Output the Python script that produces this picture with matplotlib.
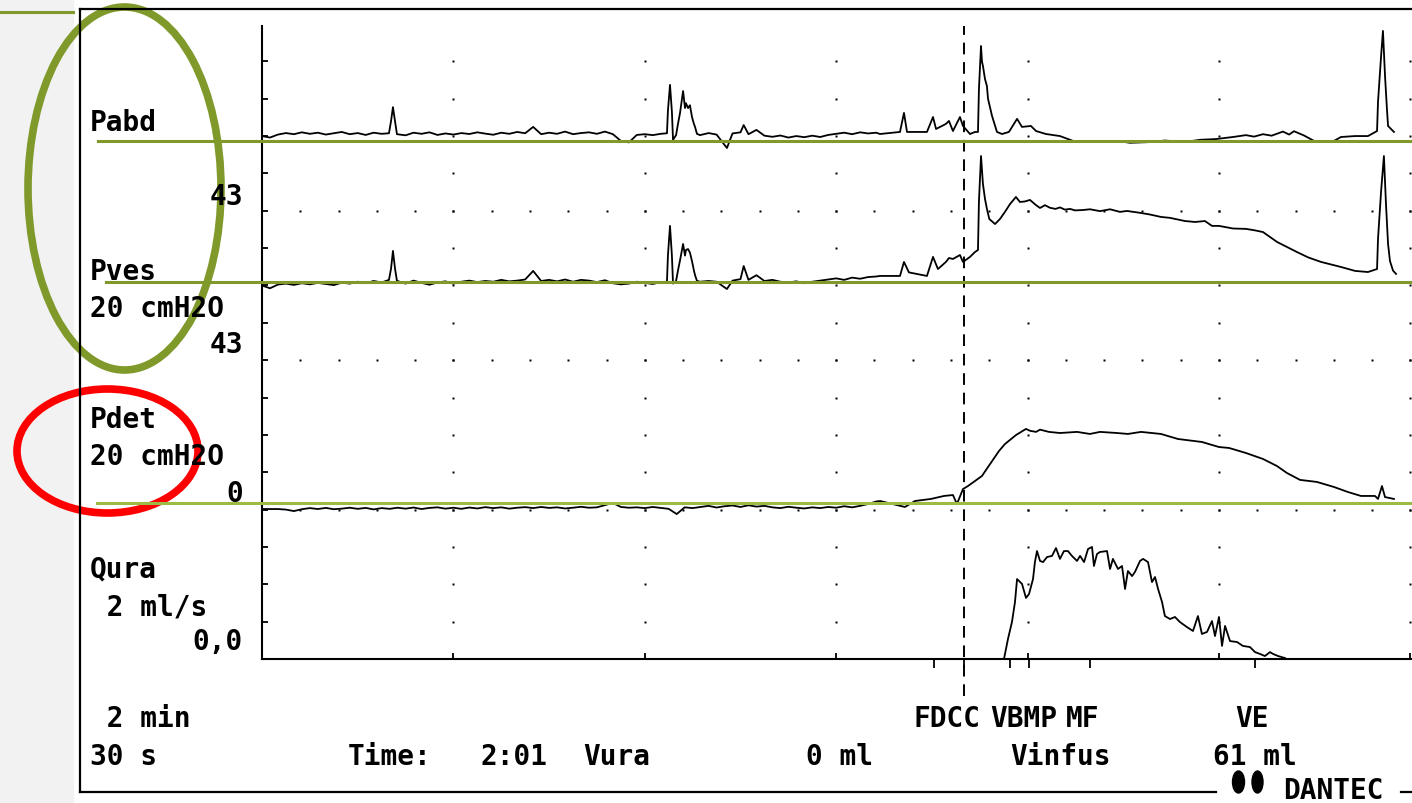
import matplotlib
matplotlib.use("Agg")
import matplotlib.pyplot as plt
from matplotlib.lines import Line2D
from matplotlib.patches import Ellipse, Rectangle

W, H = 1412, 804

# filling phase samples (s), shared by Pabd and Pves
t_fill = [0, 5, 10, 15, 20, 25, 30, 35, 40, 45, 50, 55, 60, 65, 70, 75,
          79.6, 80.9, 82.1, 83.4, 84.6,
          90, 95, 100, 105, 110, 115, 120, 125, 130, 135, 140, 145, 150, 155, 160,
          165, 170, 175, 180, 185, 190, 195, 200, 205, 210, 215, 220, 225, 230, 235,
          240, 245, 250,
          253.9, 254.5, 255.8, 257.0, 257.7, 259.6, 260.8, 262.1, 264.0, 265.2,
          265.8, 267.1, 268.3, 269.6, 270.8, 271.5, 272.7, 274.6,
          280, 285, 291.5, 295, 300, 302, 305, 310,
          315, 320, 325, 330, 335, 340, 345, 350, 355, 360, 365, 370, 375, 380, 385]

pabd_fill = [0.0, -0.8, 0.8, 1.6, 1.0, 2.0, 1.2, 1.8, 0.8, 1.5, 2.2, 1.0, 1.6, 0.6, 1.8, 1.2,
             1.5, 8.0, 15.5, 8.0, 1.0,
             0.4, 1.8, 1.2, 2.0, 0.6, 1.4, 0.8, 1.6, 1.1, 2.0, 1.3, 0.7, 1.8, 1.2, 2.2,
             1.5, 4.9, 1.0, 1.8, 1.2, 2.4, 1.0, 1.6, 2.0, 1.2, 2.4, 1.0, -2.6, -3.4, 0.6,
             1.0, 0.5, 1.2,
             1.5, 13.5, 27.4, 13.0, -2.0, 0.5, 6.5, 12.4, 24.1, 15.0,
             17.6, 15.0, 16.5, 10.2, 6.5, 4.9, 1.2, 0.5,
             1.6, 0.8, -6.4, 1.4, 2.0, 5.9, 1.0, 3.3,
             0.2, -0.4, 0.3, -0.8, 0.0, -0.6, 0.2, -0.5, 0.6, 1.2, 1.8, 1.0, 2.0, 1.4, 1.8]

pves_fill = [0.0, -1.5, 0.5, 1.0, 0.3, 1.2, 0.6, 1.4, 0.8, 0.2, 1.5, 1.0, 2.0, 1.2, 2.4, 1.6,
             3.0, 9.0, 18.5, 9.0, 2.5,
             1.0, 2.6, 1.4, 0.4, 1.6, 2.2, 1.0, 2.0, 2.6, 1.8, 2.4, 2.0, 3.0, 2.2, 2.6,
             3.2, 7.8, 2.4, 3.0, 2.2, 3.2, 2.0, 3.0, 2.6, 1.8, 2.8, 1.2, 0.6, 1.0, 2.0,
             1.4, 0.8, 1.8,
             2.0, 16.0, 31.9, 16.0, 1.0, 2.4, 8.0, 13.5, 22.2, 16.0,
             19.0, 19.5, 17.6, 13.0, 8.0, 5.5, 2.5, 2.0,
             2.4, 2.0, -1.9, 2.6, 3.4, 10.4, 3.0, 5.5,
             2.4, 3.0, 2.0, 1.6, 2.2, 1.2, 2.0, 2.6, 3.2, 3.8, 3.0, 4.2, 3.6, 4.5, 4.8]

# voiding phase
t_pabd_void = [387.5, 400.0, 402.5, 404.4, 416.9, 420.7, 422.6, 428.8, 430.7, 433.2,
               437.6, 439.5, 443.9, 447.0, 448.9, 449.5, 450.8, 451.4, 452.0, 453.3,
               454.5, 455.2, 457.7, 460.8, 464.0, 468.3, 473.4, 476.5, 482.1, 485.3,
               491.5, 500.3, 508.5, 519.1, 525.4, 536.1, 544.2, 557.4, 566.1, 578.7,
               588.1, 598.1, 608.8, 616.9, 622.0, 627.6, 633.0, 640.1, 644.0, 647.0,
               653.3, 659.6, 672.1,
               676.5, 685.3, 693.4, 699.1, 699.7, 701.6, 702.8, 704.1, 705.3, 706.0, 709.7]
pabd_void = [1.1, 2.2, 12.4, 2.2, 2.2, 10.2, 3.8, 6.5, 8.1, 2.7,
             10.2, 5.4, 1.1, 2.2, 2.2, 25.2, 48.2, 39.8, 37.6, 30.5,
             26.8, 19.9, 10.8, 2.2, 1.1, 2.2, 9.2, 4.9, 5.4, 2.7,
             1.1, 0.0, -2.6, -3.2, -2.8, -2.6, -3.6, -3.2, -2.4, -3.2,
             -2.0, -1.6, -0.5, 0.5, -0.3, 1.0, 0.2, 2.4, 0.8, 2.6,
             0.3, -2.6, -2.6,
             -0.5, 0.0, 0.0, 2.7, 18.3, 42.4, 56.3, 32.2, 14.5, 5.4, 2.2]

t_pves_void = [387.5, 400.0, 402.5, 405.6, 416.9, 420.7, 423.8, 428.8, 430.7, 433.2,
               437.6, 439.5, 443.9, 447.0, 448.9, 449.5, 450.8, 452.0, 453.3, 454.5,
               456.0, 459.6, 462.7, 465.8, 469.0, 472.7, 475.2, 478.4, 481.5, 485.3,
               487.8, 490.9, 494.0, 497.5, 500.3, 503.4, 506.6, 509.7, 514.7, 519.1,
               525.4, 531.7, 537.9, 542.3, 550.5, 556.7, 563.6, 569.3, 578.7, 585.0,
               591.2, 595.6, 600.0, 608.8, 616.9, 622.6, 627.6, 636.4, 648.9, 656.0,
               664.0, 676.5, 685.3, 693.4, 699.1, 699.7, 701.6, 703.4, 704.7, 706.0,
               707.2, 709.1, 711.0]
pves_void = [5.1, 5.1, 12.6, 7.0, 5.1, 15.3, 8.8, 12.6, 14.7, 14.2,
             16.3, 12.6, 15.3, 17.9, 19.0, 45.0, 69.3, 54.4, 46.3, 41.0,
             35.6, 32.9, 35.6, 39.4, 43.6, 47.4, 44.7, 45.0, 45.8, 43.0,
             41.5, 43.0, 41.6, 41.0, 41.8, 40.6, 41.0, 40.2, 40.4, 40.8,
             39.8, 40.8, 39.4, 39.9, 38.9, 38.0, 36.7, 36.2, 34.5, 34.0,
             34.5, 31.9, 31.9, 30.5, 30.3, 29.5, 28.6, 23.3, 17.9, 15.0,
             12.6, 9.9, 7.8, 7.2, 8.8, 24.9, 50.0, 69.3, 43.6, 22.2,
             13.1, 8.0, 6.2]

t_pdet = list(range(0, 390, 5)) + [
    387.5, 403.1, 409.4, 419.4, 427.6, 433.2, 435.7, 439.5, 442.6, 451.4,
    455.2, 462.1, 465.8, 472.7, 479.0, 481.5, 485.3, 487.8, 493.4, 500.3,
    511.0, 519.1, 525.4, 536.1, 542.9, 551.1, 563.6, 574.3, 589.3, 600.0,
    606.3, 616.9, 627.6, 636.4, 642.6, 650.8, 661.4, 672.1, 680.9, 689.0,
    697.8, 699.7, 702.2, 704.1, 709.7]
pdet = [0.3, 0.3, 0.3, 0.0, -0.8, 0.2, 0.8, 0.3, 0.9, 0.2,
        0.5, 1.0, 0.4, 0.9, 0.1, 0.8, 0.4, 1.0, 0.5, 1.1,
        0.3, 0.9, 1.2, 0.5, 1.0, 0.4, 1.1, 0.6, 1.3, 0.8,
        1.2, 0.5, 1.0, 1.3, 0.8, 1.4, 0.9, 1.2, 0.6, 1.0,
        1.5, 1.0, 1.2, 2.4, 3.6, 1.4, 1.0, 1.2, 0.8, 1.4,
        0.9, 0.4, -2.4, 1.2, 0.8, 1.4, 2.0, 1.1, 1.8, 2.2,
        1.4, 2.3, 1.6, 2.0, 1.2, 0.8, 1.5, 1.0, 0.6, 1.2,
        0.8, 1.4, 1.0, 1.8, 1.2, 2.0, 3.0, 4.3,
        4.6, 1.4, 4.6, 5.7, 7.3, 7.8, 3.0, 11.0, 12.6, 18.0,
        22.8, 31.4, 35.1, 39.9, 43.2, 42.2, 41.6, 42.8, 41.6, 41.0,
        41.6, 40.5, 41.6, 41.0, 40.5, 41.6, 40.5, 37.8, 36.2, 33.5,
        33.0, 30.3, 27.1, 23.3, 19.6, 15.9, 14.8, 12.1, 9.4, 7.3,
        7.3, 5.7, 12.6, 6.7, 5.7]

t_qura = [465.2, 467.7, 470.2, 472.1, 473.4, 476.5, 479.0, 480.9, 483.4, 484.6,
          485.9, 487.8, 489.7, 492.2, 495.3, 497.8, 500.3, 502.8, 505.3, 507.8,
          511.0, 512.9, 515.4, 517.9, 520.4, 521.6, 523.5, 525.4, 529.8, 531.7,
          533.5, 536.7, 539.2, 541.1, 542.9, 545.5, 547.3, 550.5, 552.4, 555.5,
          558.0, 559.9, 561.8, 564.3, 566.1, 569.3, 572.4, 575.5, 579.9, 583.7,
          586.8, 589.3, 592.5, 595.6, 597.5, 600.0, 601.9, 603.8, 606.9, 611.3,
          615.0, 619.4, 622.6, 625.7, 628.8, 632.0, 633.9, 637.0, 641.4]
qura = [0.0, 1.07, 1.98, 3.05, 4.28, 4.02, 3.27, 3.48, 4.28, 5.19,
        5.78, 5.25, 5.19, 5.46, 5.52, 5.94, 5.36, 5.78, 5.78, 5.52,
        5.25, 5.52, 5.19, 5.89, 6.00, 4.98, 5.62, 5.73, 5.78, 4.82,
        5.36, 4.82, 4.98, 3.75, 4.71, 4.44, 4.66, 5.25, 5.36, 5.19,
        4.12, 4.39, 3.75, 3.05, 2.30, 2.14, 2.25, 1.98, 1.71, 1.50,
        2.30, 1.34, 1.45, 2.03, 1.23, 2.25, 0.70, 1.77, 0.96, 0.91,
        0.70, 0.64, 0.37, 0.27, 0.16, 0.37, 0.27, 0.16, 0.05]

# event markers (s)
events = {"FD": 421.3, "CC": 440.1, "VB": 469.0, "MP": 480.9, "MF": 519.1, "VE": 622.6}
major_t = [120, 240, 360, 480, 600, 720]
minor_t = [24 * k for k in range(1, 31)]
dot_rows = [4, 8, 12]

# channel: (zero row, units per row)
channels = {"Pabd": (14, 20), "Pves": (10, 20), "Pdet": (4, 20), "Qura": (0, 2)}
NROWS = 17
T_MAX = 732.3


def fx(px):
    return px / W


def fy(py):
    return 1 - py / H


fig = plt.figure(figsize=(W / 100, H / 100), dpi=100)
fig.patch.set_facecolor("white")
fig.add_artist(Rectangle((0, 0), fx(73), 1, transform=fig.transFigure,
                         color="#f2f2f2", zorder=-5))

rect = [fx(262), fy(660), fx(1430) - fx(262), fy(25) - fy(660)]
ax = fig.add_axes(rect)
ax.set_xlim(0, T_MAX)
ax.set_ylim(0, NROWS)
ax.patch.set_visible(False)
for s in ["top", "right"]:
    ax.spines[s].set_visible(False)
for s in ["left", "bottom"]:
    ax.spines[s].set_linewidth(1.5)
ax.spines["left"].set_bounds(0, 16.95)
ax.set_yticks(range(1, 17))
ax.tick_params(axis="y", direction="in", length=4.5, width=1.3, labelleft=False)
ax.set_xticks(major_t)
ax.set_xticks(list(events.values()), minor=True)
ax.tick_params(axis="x", which="major", direction="in", length=4.5, width=1.3,
               labelbottom=False)
ax.tick_params(axis="x", which="minor", direction="out", length=6.5, width=1.3)

# dotted grid
gx, gy = [], []
for t in major_t:
    for r in range(1, 17):
        gx.append(t)
        gy.append(r)
for r in dot_rows:
    for t in minor_t:
        gx.append(t)
        gy.append(r)
ax.plot(gx, gy, "s", ms=1.5, color="black", mec="none")

# CC cursor
ax.plot([events["CC"]] * 2, [-0.99, 16.95], color="black", lw=1.4,
        dashes=(6, 4), clip_on=False)

traces = [("Pabd", t_fill + t_pabd_void, pabd_fill + pabd_void),
          ("Pves", t_fill + t_pves_void, pves_fill + pves_void),
          ("Pdet", t_pdet, pdet),
          ("Qura", t_qura, qura)]
for name, tt, vv in traces:
    r0, per_row = channels[name]
    cax = fig.add_axes(rect, sharex=ax)
    cax.set_ylim(-r0 * per_row, (NROWS - r0) * per_row)
    cax.axis("off")
    cax.patch.set_visible(False)
    cax.plot(tt, vv, color="black", lw=1.3)

# outer frame
frame = dict(color="black", lw=1.6, transform=fig.transFigure)
fig.add_artist(Line2D([fx(80), fx(1412)], [fy(10), fy(10)], **frame))
fig.add_artist(Line2D([fx(80), fx(80)], [fy(10), fy(793)], **frame))
fig.add_artist(Line2D([fx(80), fx(1216)], [fy(793), fy(793)], **frame))
fig.add_artist(Line2D([fx(1401), fx(1412)], [fy(793), fy(793)], **frame))

# texts
font = dict(family="DejaVu Sans Mono", fontsize=20, weight="bold", va="baseline")
left_labels = [("Pabd", 131), ("Pves", 280), ("20 cmH2O", 317), ("Pdet", 428),
               ("20 cmH2O", 465), ("Qura", 577), (" 2 ml/s", 615),
               (" 2 min", 727), ("30 s", 765)]
for s, y in left_labels:
    fig.text(fx(90), fy(y), s, **font)
right_values = [("43", 205), ("43", 353), ("0", 502), ("0,0", 650)]
for s, y in right_values:
    fig.text(fx(243), fy(y), s, ha="right", **font)
status = [("Time:", 348), ("2:01", 480), ("Vura", 583), ("0 ml", 806),
          ("Vinfus", 1010), ("61 ml", 1213)]
for s, x in status:
    fig.text(fx(x), fy(765), s, **font)
event_labels = [("FDCC", 913), ("VBMP", 990), ("MF", 1066), ("VE", 1235)]
for s, x in event_labels:
    fig.text(fx(x), fy(727), s, **font)
fig.text(fx(1283), fy(799), "DANTEC", **font)
for cx, w in [(1238.5, 12), (1257.5, 11)]:
    fig.add_artist(Ellipse((fx(cx), fy(783)), w / W, 22 / H, transform=fig.transFigure,
                           color="black"))

# highlight overlays
olive = "#7f9a2a"
hl = dict(transform=fig.transFigure, lw=2.2)
fig.add_artist(Line2D([0, fx(73)], [fy(13), fy(13)], color=olive, **hl))
fig.add_artist(Line2D([fx(98), 1], [fy(142), fy(142)], color=olive, **hl))
fig.add_artist(Line2D([fx(106), 1], [fy(283), fy(283)], color=olive, **hl))
fig.add_artist(Line2D([fx(97), 1], [fy(504), fy(504)], color="#9dba45", **hl))
fig.add_artist(Ellipse((fx(124.5), fy(189.5)), 193 / W, 363 / H,
                       transform=fig.transFigure, fill=False, ec=olive, lw=5.5))
fig.add_artist(Ellipse((fx(107.5), fy(452)), 181 / W, 124 / H,
                       transform=fig.transFigure, fill=False, ec="#ff0000", lw=5.5))

fig.savefig("out.png", dpi=100)
